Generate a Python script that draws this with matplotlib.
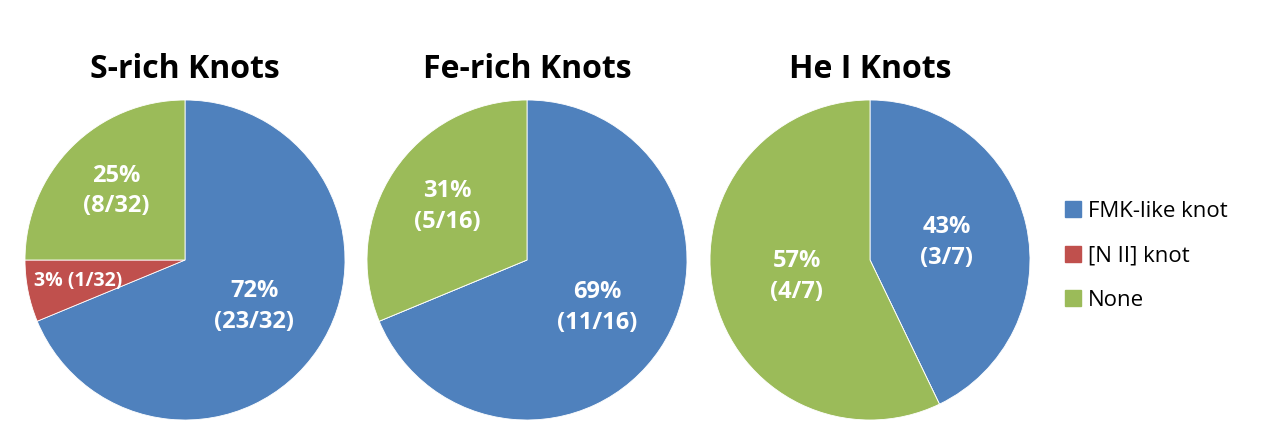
import numpy as np
import matplotlib.pyplot as plt

plt.rcParams['font.family'] = ['Open Sans', 'DejaVu Sans']

# === Dados ===
titles = ["S-rich Knots", "Fe-rich Knots", "He I Knots"]
categories = ["FMK-like knot", "[N II] knot", "None"]
colors = ["#4F81BD", "#C0504D", "#9BBB59"]

# tamanhos das fatias como desenhadas no original
s_rich = [22, 2, 8]
fe_rich = [11, 0, 5]
he_i = [3, 0, 4]

s_labels = ["72%\n(23/32)", "3% (1/32)", "25%\n(8/32)"]
fe_labels = ["69%\n(11/16)", "", "31%\n(5/16)"]
he_labels = ["43%\n(3/7)", "", "57%\n(4/7)"]

# === Estilo / layout ===
W, H = 1266, 444
centers_x = [185, 527, 870]
center_y = 260
radius_px = 160
label_dist = [[0.52, 0.68, 0.61], [0.53, 0, 0.60], [0.49, 0, 0.47]]
label_size = [[17, 14, 17], [17, 17, 17], [17, 17, 17]]

fig = plt.figure(figsize=(W / 100, H / 100), dpi=100)

for i, (vals, labs) in enumerate(zip([s_rich, fe_rich, he_i],
                                     [s_labels, fe_labels, he_labels])):
    cx = centers_x[i]
    ax = fig.add_axes([(cx - radius_px) / W, (H - center_y - radius_px) / H,
                       2 * radius_px / W, 2 * radius_px / H])
    wedges, _ = ax.pie(vals, colors=colors, startangle=90, counterclock=False,
                       radius=1, wedgeprops=dict(edgecolor="white", linewidth=0.6))
    for j, w in enumerate(wedges):
        if vals[j] == 0:
            continue
        mid = np.deg2rad((w.theta1 + w.theta2) / 2)
        d = label_dist[i][j]
        ax.text(d * np.cos(mid), d * np.sin(mid), labs[j], ha="center", va="center",
                color="white", fontsize=label_size[i][j], fontweight="bold",
                linespacing=1.38)
    ax.set_xlim(-1, 1)
    ax.set_ylim(-1, 1)
    ax.set_aspect("equal")
    ax.axis("off")
    fig.text(cx / W, 1 - 69 / H, titles[i], ha="center", va="center",
             fontsize=23, fontweight="bold")

# === Legenda ===
handles = [plt.Rectangle((0, 0), 1, 1, color=c) for c in colors]
fig.legend(handles, categories, loc="center left",
           bbox_to_anchor=(1065 / W, 1 - 256 / H), frameon=False,
           fontsize=16, handlelength=0.72, handleheight=0.72,
           handletextpad=0.3, labelspacing=1.05, borderpad=0, borderaxespad=0)

fig.savefig("out.png", dpi=100)
